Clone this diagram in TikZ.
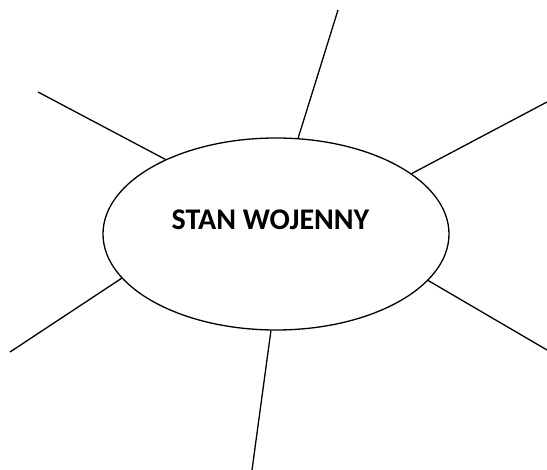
\documentclass[tikz,border=0pt]{standalone}
\usepackage{fontspec}
\setmainfont{Carlito}
\usetikzlibrary{shapes.geometric}

\begin{document}
\begin{tikzpicture}[x=1pt, y=-1pt, line width=1.3pt]
  \useasboundingbox (0,0) rectangle (547,470);

  \node[draw, ellipse, minimum width=346pt, minimum height=192pt, inner sep=0pt] (stan) at (276,234) {};
  \node[anchor=base, font=\bfseries\fontsize{30}{32}\selectfont] (title) at (270.5,229.5) {STAN WOJENNY};

  % outer ends of the spokes
  \coordinate (top)   at (338, 10);
  \coordinate (ul)    at (38, 92);
  \coordinate (ur)    at (547, 102);
  \coordinate (ll)    at (10, 352);
  \coordinate (lr)    at (547, 350);
  \coordinate (bot)   at (252, 470);

  \draw (stan.77.8)  -- (top);
  \draw (stan.146.3) -- (ul);
  \draw (stan.24)    -- (ur);
  \draw (stan.196.2) -- (ll);
  \draw (stan.343.9) -- (lr);
  \draw (stan.267.6) -- (bot);
\end{tikzpicture}
\end{document}
